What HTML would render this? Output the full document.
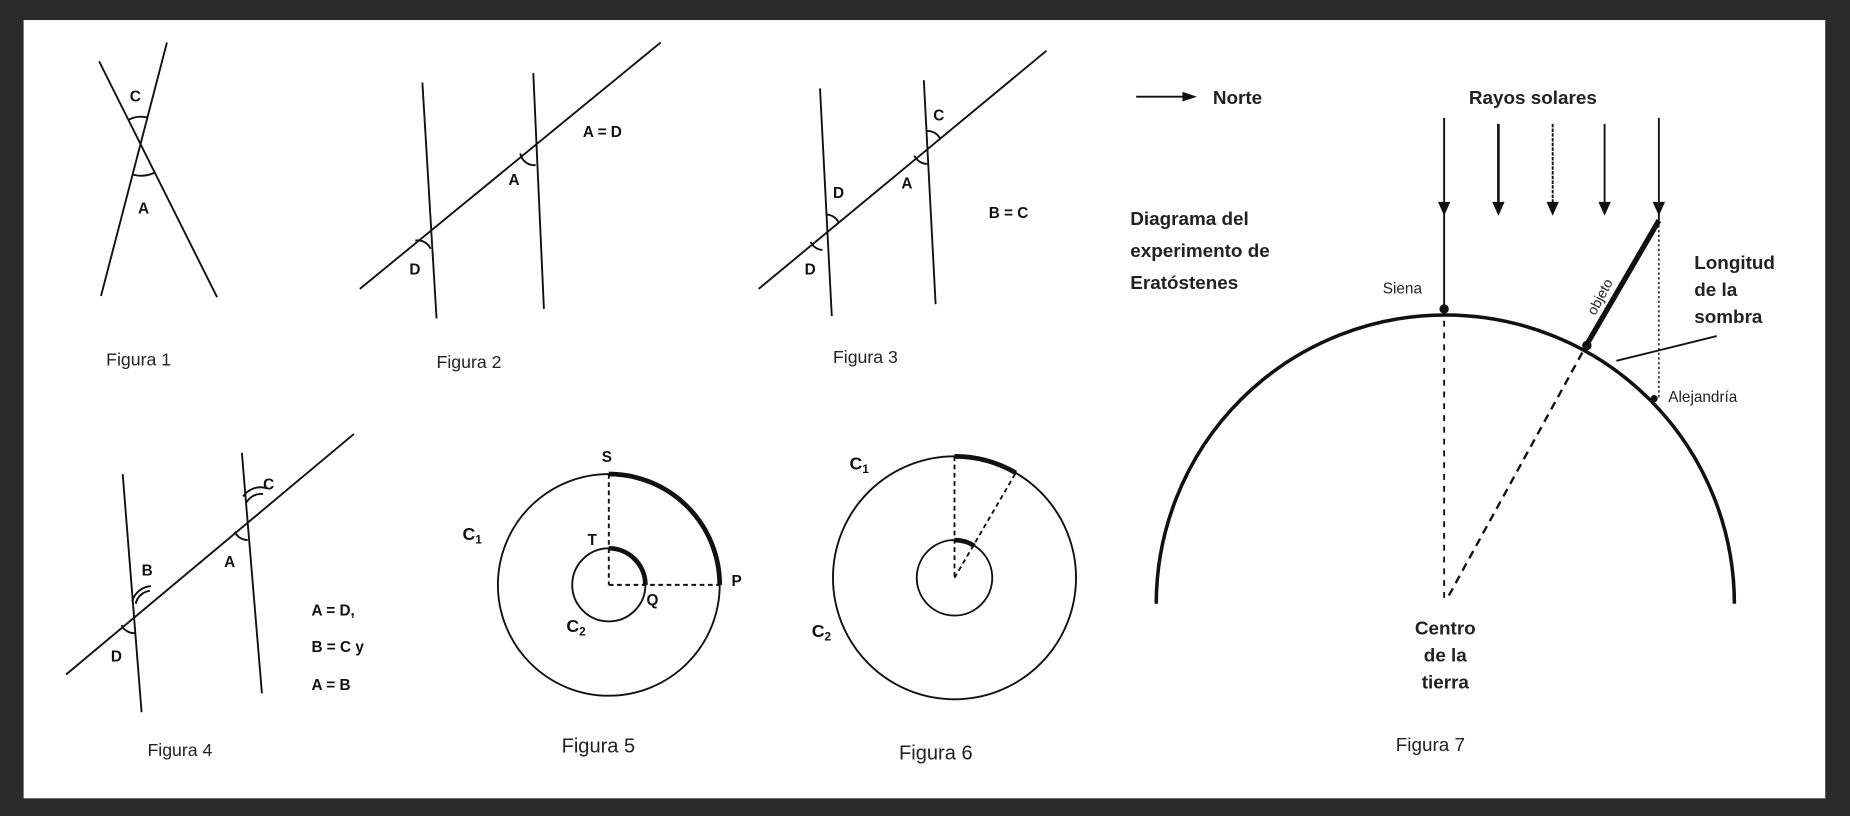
<!DOCTYPE html>
<html><head><meta charset="utf-8"><style>html,body{margin:0;padding:0;background:#2a2a2a}svg{display:block}</style></head>
<body>
<svg width="1850" height="816" viewBox="0 0 1568 692" preserveAspectRatio="none" xmlns="http://www.w3.org/2000/svg" font-family="Liberation Sans, sans-serif">
<rect x="0" y="0" width="1568" height="692" fill="#2a2a2a"/>
<rect x="20" y="17" width="1527" height="660" fill="#fff"/>
<g stroke="#111" stroke-width="1.6" fill="none">
<!-- Fig1 -->
<line x1="85.6" y1="251" x2="141.5" y2="36"/><line x1="84" y1="52" x2="184" y2="252"/>
<path d="M109.1,101.5 A23,23 0 0 1 125.2,99.7"/><path d="M112.6,148.1 A27,27 0 0 0 131.5,146.2"/>
<!-- Fig2 -->
<line x1="305" y1="245" x2="560" y2="36"/><line x1="358" y1="70" x2="370" y2="270"/><line x1="452" y1="62" x2="461" y2="262"/>
<path d="M441,130 A12,12 0 0 0 454,140"/><path d="M352,204 A12,12 0 0 1 365,211"/>
<!-- Fig3 -->
<line x1="643" y1="245" x2="887" y2="43"/><line x1="695" y1="75" x2="705" y2="268"/><line x1="783" y1="68" x2="793" y2="258"/>
<path d="M786,111 A12,12 0 0 1 797,118"/><path d="M775,132 A12,12 0 0 0 786,139"/>
<path d="M700,182 A12,12 0 0 1 711,189"/><path d="M687,205 A12,12 0 0 0 697,212"/>
<!-- Fig4 -->
<line x1="56" y1="572" x2="300" y2="368"/><line x1="104" y1="402" x2="120" y2="604"/><line x1="205" y1="384" x2="222" y2="588"/>
<path d="M209,426 A14,14 0 0 1 223,419"/><path d="M206,421 A18,18 0 0 1 226,414"/>
<path d="M199,451 A12,12 0 0 0 210,458"/>
<path d="M115,512 A14,14 0 0 1 127,501"/><path d="M112,510 A18,18 0 0 1 128,497"/>
<path d="M103,530 A12,12 0 0 0 114,537"/>
<!-- Fig5 -->
<circle cx="516" cy="496" r="94"/><circle cx="516" cy="496" r="31"/>
<path d="M516,402 A94,94 0 0 1 610,496" stroke-width="4"/>
<path d="M516,465 A31,31 0 0 1 547,496" stroke-width="4"/>
<line x1="516" y1="402" x2="516" y2="496" stroke-dasharray="4,3"/><line x1="516" y1="496" x2="610" y2="496" stroke-dasharray="4,3"/>
<!-- Fig6 -->
<circle cx="809" cy="490" r="103"/><circle cx="809" cy="490" r="32"/>
<path d="M809,387 A103,103 0 0 1 861,401" stroke-width="4"/>
<path d="M809,458 A32,32 0 0 1 826,463" stroke-width="4"/>
<line x1="809" y1="387" x2="809" y2="490" stroke-dasharray="4,3"/><line x1="809" y1="490" x2="861" y2="401" stroke-dasharray="4,3"/>
<!-- Fig7 -->
<line x1="963" y1="82" x2="1008" y2="82"/><path d="M1003,79 L1012,82 L1003,85 Z" fill="#111"/>
<line x1="1224" y1="100" x2="1224" y2="262"/><line x1="1406" y1="100" x2="1406" y2="187"/>
<line x1="1406" y1="187" x2="1406" y2="338" stroke-dasharray="2,2" stroke-width="1.2"/>
<line x1="1270" y1="105" x2="1270" y2="175" stroke-width="2.2"/><line x1="1316" y1="105" x2="1316" y2="175" stroke-dasharray="3,1"/><line x1="1360" y1="105" x2="1360" y2="175"/>
<path d="M1220,172 L1224,181 L1228,172Z M1266,172 L1270,181 L1274,172Z M1312,172 L1316,181 L1320,172Z M1356,172 L1360,181 L1364,172Z M1402,172 L1406,181 L1410,172Z" fill="#111"/>
<path d="M980,512 A244,244 0 0 1 1470,512" stroke-width="3"/>
<line x1="1224" y1="262" x2="1224" y2="512" stroke-dasharray="5,5"/>
<line x1="1228" y1="505" x2="1345" y2="292" stroke-dasharray="7,5" stroke-width="2"/>
<line x1="1345" y1="292" x2="1406" y2="187" stroke-width="4.5"/>
<line x1="1370" y1="306" x2="1455" y2="285"/>
</g>
<g fill="#111"><circle cx="1224" cy="262" r="4"/><circle cx="1345" cy="293" r="4"/><circle cx="1402" cy="338" r="3"/></g>
<g font-size="13" font-weight="bold" fill="#111">
<text x="110" y="86">C</text><text x="117" y="181">A</text>
<text x="494" y="116">A = D</text><text x="431" y="157">A</text><text x="347" y="233">D</text>
<text x="791" y="102">C</text><text x="764" y="160">A</text><text x="706" y="168">D</text><text x="682" y="233">D</text><text x="838" y="185">B = C</text>
<text x="223" y="415">C</text><text x="190" y="481">A</text><text x="120" y="488">B</text><text x="94" y="561">D</text>
<text x="264" y="522">A = D,</text><text x="264" y="553">B = C  y</text><text x="264" y="585">A = B</text>
<text x="510" y="392">S</text><text x="498" y="462">T</text><text x="548" y="513">Q</text><text x="620" y="497">P</text>
<text x="392" y="458" font-size="15">C<tspan font-size="10" dy="3">1</tspan></text>
<text x="480" y="536" font-size="15">C<tspan font-size="10" dy="3">2</tspan></text>
<text x="720" y="398" font-size="15">C<tspan font-size="10" dy="3">1</tspan></text>
<text x="688" y="540" font-size="15">C<tspan font-size="10" dy="3">2</tspan></text>
</g>
<g font-size="15" fill="#222">
<text x="90" y="310">Figura 1</text><text x="370" y="312">Figura 2</text><text x="706" y="308">Figura 3</text>
<text x="125" y="641">Figura 4</text><text x="476" y="638" font-size="17">Figura 5</text><text x="762" y="644" font-size="17">Figura 6</text>
<text x="1183" y="637" font-size="16">Figura 7</text>
</g>
<g font-size="16" font-weight="bold" fill="#222">
<text x="1028" y="88">Norte</text><text x="1245" y="88">Rayos solares</text>
<text x="958" y="191">Diagrama del</text><text x="958" y="218">experimento de</text><text x="958" y="245">Eratóstenes</text>
<text x="1436" y="228">Longitud</text><text x="1436" y="251">de la</text><text x="1436" y="274">sombra</text>
<text x="1225" y="538" text-anchor="middle">Centro</text><text x="1225" y="561" text-anchor="middle">de la</text><text x="1225" y="584" text-anchor="middle">tierra</text>
</g>
<g font-size="13" fill="#222">
<text x="1172" y="249">Siena</text><text x="1414" y="341">Alejandría</text>
<text x="0" y="0" transform="translate(1352,268) rotate(-62)" font-size="12">objeto</text>
</g>
</svg>
</body></html>
